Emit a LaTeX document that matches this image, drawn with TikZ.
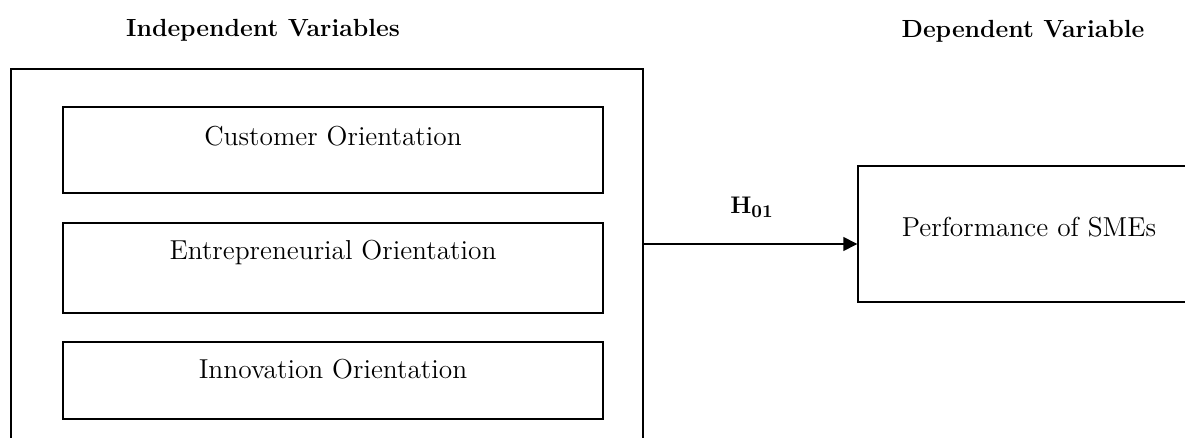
\documentclass[tikz,border=0pt]{standalone}
\usetikzlibrary{positioning,calc,arrows.meta}
\tikzset{
  varbox/.style={draw,line width=0.7pt,minimum width=270pt,inner sep=0pt},
  vartext/.style={font=\fontsize{13.7}{16}\selectfont},
  headtext/.style={font=\fontsize{12.4}{14}\selectfont\bfseries},
}
\begin{document}
\begin{tikzpicture}[x=0.5pt,y=-0.5pt,line join=miter]
		\useasboundingbox (0,0) rectangle (1185,438);
		\clip (0,0) rectangle (1185,438);
		%headings
		\node[headtext] (indeptitle) at (263,30) {Independent Variables};
		\node[headtext] (deptitle) at (1023,31) {Dependent Variable};
		%boxes
		\node[varbox,minimum width=316pt,minimum height=210pt] (indep) at (327,279) {};
		\node[varbox,minimum height=43pt] (cust) at (333,150) {};
		\node[varbox,minimum height=45pt] (entr) at (333,268) {};
		\node[varbox,minimum height=38.5pt] (innov) at (333,380.5) {};
		\node[varbox,minimum width=180pt,minimum height=68pt] (perf) at (1038,234) {};
		%texts
		\node[vartext] (custtxt) at ($(cust.north)+(0,30)$) {Customer Orientation};
		\node[vartext] (entrtxt) at ($(entr.north)+(0,30)$) {Entrepreneurial Orientation};
		\node[vartext] (innovtxt) at ($(innov.north)+(0,28)$) {Innovation Orientation};
		\node[vartext] (perftxt) at ($(perf.north)+(-9,62)$) {Performance of SMEs};
		%arrow
		\coordinate (hy) at (0,244);
		\draw[-{Triangle[length=7pt,width=7pt]},line width=0.7pt] (indep.east |- hy) -- (perf.west |- hy);
		\node[headtext] (hyp) at (752,207) {$\mathbf{H_{01}}$};
	\end{tikzpicture}
\end{document}
